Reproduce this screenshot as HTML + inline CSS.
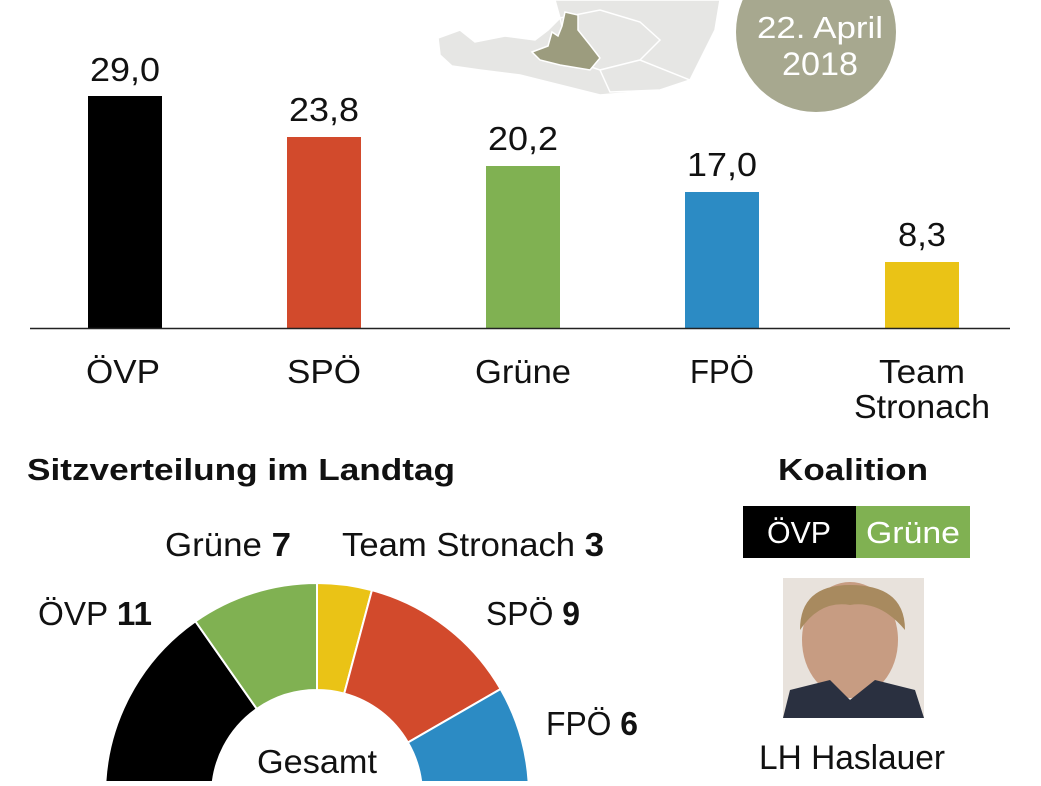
<!DOCTYPE html>
<html><head><meta charset="utf-8"><style>
body{margin:0;background:#fff;width:1041px;height:781px;overflow:hidden;font-family:"Liberation Sans","DejaVu Sans",sans-serif}
</style></head><body>
<svg width="1041" height="781" viewBox="0 0 1041 781" xmlns="http://www.w3.org/2000/svg" font-family="Liberation Sans, sans-serif">
<!-- map -->
<g fill="#e6e6e4" stroke="#fff" stroke-width="1.5">
<path d="M438 38 L460 30 L475 42 L505 36 L535 40 L548 30 L560 18 L555 0 L720 0 L715 30 L700 60 L690 80 L660 90 L600 95 L560 85 L520 75 L480 70 L452 66 L440 55 Z"/>
<path d="M560 18 L600 10 L640 22 L660 40 L640 60 L600 70 L570 60 Z"/>
<path d="M600 70 L640 60 L690 80 L660 90 L610 92 Z"/>
</g>
<path d="M532 52 L548 46 L552 32 L558 36 L562 26 L565 12 L578 15 L578 30 L590 45 L600 58 L590 70 L560 65 L540 60 Z" fill="#9c9c7e" stroke="#fff" stroke-width="1.5"/>
<!-- date circle -->
<circle cx="816" cy="32" r="80" fill="#a7a88f"/>
<text x="820" y="38" font-size="31" fill="#fff" text-anchor="middle" textLength="126" lengthAdjust="spacingAndGlyphs">22. April</text>
<text x="820" y="75" font-size="32" fill="#fff" text-anchor="middle" textLength="76" lengthAdjust="spacingAndGlyphs">2018</text>
<!-- bars -->
<rect x="88" y="96" width="74" height="232" fill="#000"/>
<rect x="287" y="137" width="74" height="191" fill="#d24a2c"/>
<rect x="486" y="166" width="74" height="162" fill="#80b152"/>
<rect x="685" y="192" width="74" height="136" fill="#2c8bc4"/>
<rect x="885" y="262" width="74" height="66" fill="#eac316"/>
<line x1="30" y1="328.5" x2="1010" y2="328.5" stroke="#222" stroke-width="1.5"/>
<g font-size="33" fill="#111" text-anchor="middle">
<text x="125" y="81" textLength="70" lengthAdjust="spacingAndGlyphs">29,0</text>
<text x="324" y="121" textLength="70" lengthAdjust="spacingAndGlyphs">23,8</text>
<text x="523" y="150" textLength="70" lengthAdjust="spacingAndGlyphs">20,2</text>
<text x="722" y="176" textLength="70" lengthAdjust="spacingAndGlyphs">17,0</text>
<text x="922" y="246" textLength="48" lengthAdjust="spacingAndGlyphs">8,3</text>
<text x="123" y="383" textLength="74" lengthAdjust="spacingAndGlyphs">ÖVP</text>
<text x="324" y="383" textLength="74" lengthAdjust="spacingAndGlyphs">SPÖ</text>
<text x="523" y="383" textLength="96" lengthAdjust="spacingAndGlyphs">Grüne</text>
<text x="722" y="383" textLength="64" lengthAdjust="spacingAndGlyphs">FPÖ</text>
<text x="922" y="383" textLength="86" lengthAdjust="spacingAndGlyphs">Team</text>
<text x="922" y="418" textLength="136" lengthAdjust="spacingAndGlyphs">Stronach</text>
</g>
<text x="27" y="480" font-size="31" font-weight="bold" fill="#111" textLength="428" lengthAdjust="spacingAndGlyphs">Sitzverteilung im Landtag</text>
<text x="853" y="480" font-size="31" font-weight="bold" fill="#111" text-anchor="middle" textLength="150" lengthAdjust="spacingAndGlyphs">Koalition</text>
<!-- coalition -->
<rect x="743" y="506" width="113" height="52" fill="#000"/>
<rect x="856" y="506" width="114" height="52" fill="#80b152"/>
<text x="799" y="543" font-size="31" fill="#fff" text-anchor="middle" textLength="64" lengthAdjust="spacingAndGlyphs">ÖVP</text>
<text x="913" y="543" font-size="31" fill="#fff" text-anchor="middle" textLength="94" lengthAdjust="spacingAndGlyphs">Grüne</text>
<!-- photo -->
<rect x="783" y="578" width="141" height="140" fill="#e8e2dc"/>
<ellipse cx="850" cy="640" rx="48" ry="58" fill="#c79c82"/>
<path d="M800 630 Q800 585 850 585 Q905 585 905 630 Q880 600 850 605 Q820 600 800 630 Z" fill="#a88a5f"/>
<path d="M783 718 L790 690 L830 680 L850 700 L875 680 L915 690 L924 718 Z" fill="#2a3040"/>
<text x="852" y="769" font-size="34" fill="#111" text-anchor="middle" textLength="186" lengthAdjust="spacingAndGlyphs">LH Haslauer</text>
<!-- donut -->
<g stroke="#fff" stroke-width="2">
<path d="M105 795 A212 212 0 0 1 195.4 621.3 L256.8 708.9 A105 105 0 0 0 212 795 Z" fill="#000"/>
<path d="M195.4 621.3 A212 212 0 0 1 317 583 L317 690 A105 105 0 0 0 256.8 708.9 Z" fill="#80b152"/>
<path d="M317 583 A212 212 0 0 1 371.9 590.2 L344.2 693.6 A105 105 0 0 0 317 690 Z" fill="#eac316"/>
<path d="M371.9 590.2 A212 212 0 0 1 500.6 689 L407.9 742.5 A105 105 0 0 0 344.2 693.6 Z" fill="#d24a2c"/>
<path d="M500.6 689 A212 212 0 0 1 529 795 L422 795 A105 105 0 0 0 407.9 742.5 Z" fill="#2c8bc4"/>
</g>
<g font-size="33" fill="#111">
<text x="165" y="556" textLength="126" lengthAdjust="spacingAndGlyphs">Grüne <tspan font-weight="bold">7</tspan></text>
<text x="342" y="556" textLength="262" lengthAdjust="spacingAndGlyphs">Team Stronach <tspan font-weight="bold">3</tspan></text>
<text x="38" y="625" textLength="114" lengthAdjust="spacingAndGlyphs">ÖVP <tspan font-weight="bold">11</tspan></text>
<text x="486" y="625" textLength="94" lengthAdjust="spacingAndGlyphs">SPÖ <tspan font-weight="bold">9</tspan></text>
<text x="546" y="735" textLength="92" lengthAdjust="spacingAndGlyphs">FPÖ <tspan font-weight="bold">6</tspan></text>
<text x="317" y="773" text-anchor="middle" textLength="120" lengthAdjust="spacingAndGlyphs">Gesamt</text>
</g>
</svg>
</body></html>
